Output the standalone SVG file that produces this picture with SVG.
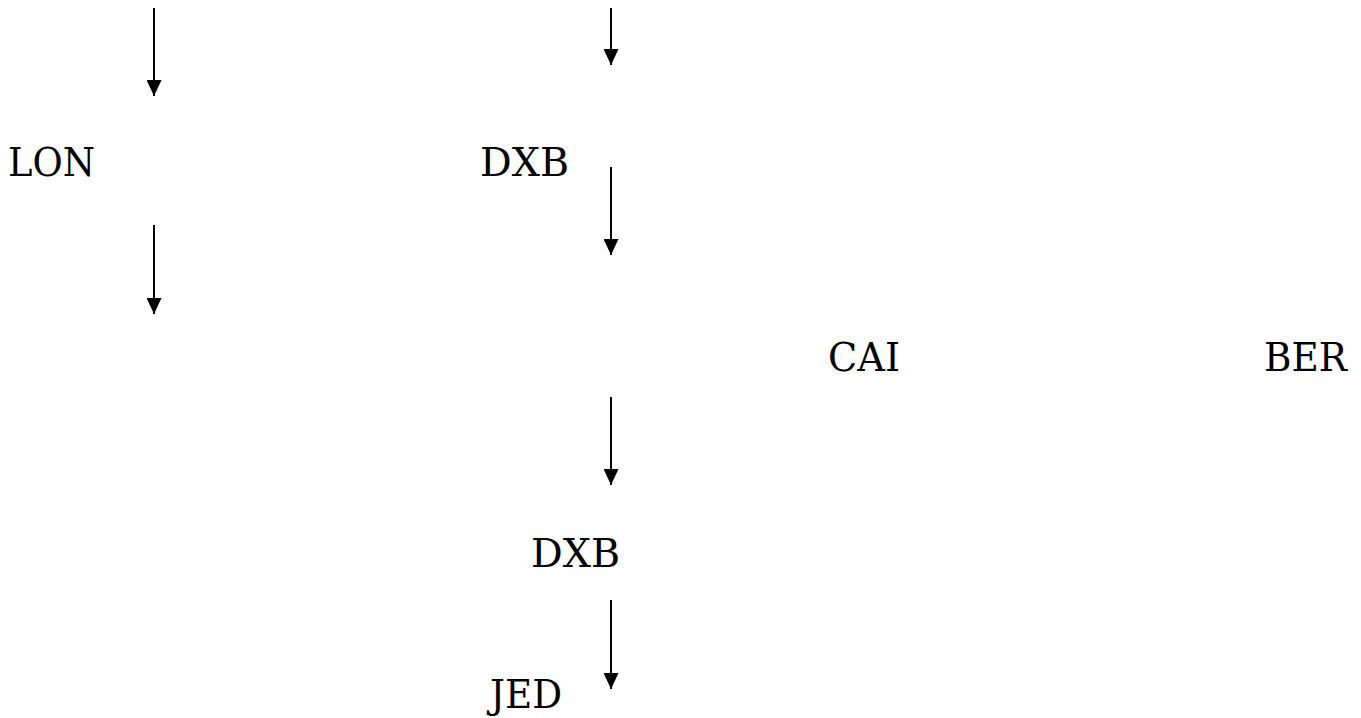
<svg xmlns="http://www.w3.org/2000/svg" width="1361" height="718" viewBox="0 0 1361 718">
<style>
  .lbl { font-family: "DejaVu Serif", "Liberation Serif", serif; font-size: 40px; fill: #000; }
  .arr { stroke: #000; stroke-width: 2; fill: none; marker-end: url(#ah); }
</style>
<defs>
  <marker id="ah" markerUnits="userSpaceOnUse" markerWidth="16" markerHeight="15" refX="16" refY="7.5" orient="auto" viewBox="0 0 16 15">
    <path d="M0,0 L16,7.5 L0,15 Z" fill="#000"/>
  </marker>
</defs>
<rect width="1361" height="718" fill="#fff"/>
<g id="connectors">
  <line class="arr" x1="154" y1="8" x2="154" y2="96"/>
  <line class="arr" x1="154" y1="225" x2="154" y2="314"/>
  <line class="arr" x1="611" y1="8" x2="611" y2="65"/>
  <line class="arr" x1="611" y1="167" x2="611" y2="255"/>
  <line class="arr" x1="611" y1="397" x2="611" y2="485"/>
  <line class="arr" x1="611" y1="600" x2="611" y2="689"/>
</g>
<g id="node-lon"><text class="lbl" x="8" y="176" textLength="87" lengthAdjust="spacingAndGlyphs">LON</text></g>
<g id="node-dxb1"><text class="lbl" x="480" y="176" textLength="89" lengthAdjust="spacingAndGlyphs">DXB</text></g>
<g id="node-cai"><text class="lbl" x="828" y="371" textLength="72" lengthAdjust="spacingAndGlyphs">CAI</text></g>
<g id="node-ber"><text class="lbl" x="1264" y="371" textLength="83" lengthAdjust="spacingAndGlyphs">BER</text></g>
<g id="node-dxb2"><text class="lbl" x="531" y="567" textLength="89" lengthAdjust="spacingAndGlyphs">DXB</text></g>
<g id="node-jed"><text class="lbl" x="490" y="708" textLength="72" lengthAdjust="spacingAndGlyphs">JED</text></g>
</svg>
